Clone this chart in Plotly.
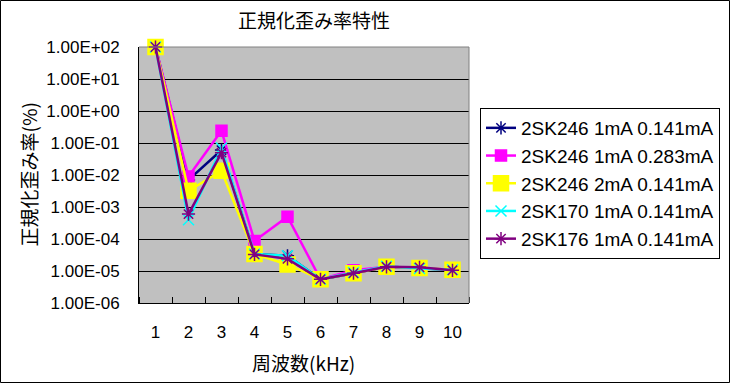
import plotly.graph_objects as go

freq_khz = [1, 2, 3, 4, 5, 6, 7, 8, 9, 10]
x_labels = ["1", "2", "3", "4", "5", "6", "7", "8", "9", "10"]

sk246_1mA_0141 = [100, 7e-3, 6e-2, 3.4e-5, 3.0e-5, 5.5e-6, 8.5e-6, 1.35e-5, 1.25e-5, 1.05e-5]
sk246_1mA_0283 = [100, 9e-3, 0.24, 8.7e-5, 5.0e-4, 5.5e-6, 1.05e-5, 1.35e-5, 1.25e-5, 1.1e-5]
sk246_2mA_0141 = [100, 3.2e-3, 1.35e-2, 3.4e-5, 1.6e-5, 5.5e-6, 8.5e-6, 1.35e-5, 1.25e-5, 1.1e-5]
sk170_1mA_0141 = [100, 4e-4, 7e-2, 3.4e-5, 3.0e-5, 5.5e-6, 9.0e-6, 1.4e-5, 1.2e-5, 1.1e-5]
sk176_1mA_0141 = [100, 6e-4, 5e-2, 3.3e-5, 2.4e-5, 5.5e-6, 8.5e-6, 1.35e-5, 1.3e-5, 1.05e-5]

series_names = [
    "2SK246 1mA 0.141mA",
    "2SK246 1mA 0.283mA",
    "2SK246 2mA 0.141mA",
    "2SK170 1mA 0.141mA",
    "2SK176 1mA 0.141mA",
]

y_tickvals = [1e-6, 1e-5, 1e-4, 1e-3, 1e-2, 1e-1, 1e0, 1e1, 1e2]
y_ticktext = ["1.00E-06", "1.00E-05", "1.00E-04", "1.00E-03", "1.00E-02",
              "1.00E-01", "1.00E+00", "1.00E+01", "1.00E+02"]

title_text = "正規化歪み率特性"
x_title = "周波数(kHz)"
y_title = "正規化歪み率(%)"

styles = [
    dict(color="#000080", symbol="asterisk-open", size=11),
    dict(color="#FF00FF", symbol="square", size=11),
    dict(color="#FFFF00", symbol="square", size=15),
    dict(color="#00FFFF", symbol="x-thin-open", size=11),
    dict(color="#800080", symbol="asterisk-open", size=11),
]
data = [sk246_1mA_0141, sk246_1mA_0283, sk246_2mA_0141, sk170_1mA_0141, sk176_1mA_0141]

fig = go.Figure()
for name, ys, st in zip(series_names, data, styles):
    fig.add_trace(go.Scatter(
        x=freq_khz, y=ys, name=name, mode="lines+markers",
        line=dict(color=st["color"], width=2.5),
        marker=dict(symbol=st["symbol"], size=st["size"], color=st["color"],
                    line=dict(color=st["color"], width=1.5)),
        cliponaxis=False,
    ))

W, H = 730, 383
L, R, T, B = 139, 261, 47, 80
pw, ph = W - L - R, H - T - B

fig.update_layout(
    width=W, height=H,
    margin=dict(l=L, r=R, t=T, b=B, autoexpand=False),
    paper_bgcolor="white",
    plot_bgcolor="#C0C0C0",
    font=dict(family="Liberation Sans, Arial, sans-serif", size=17, color="black"),
    title=dict(text=title_text, x=314 / W, y=1 - 21 / H, xref="container", yref="container",
               xanchor="center", yanchor="middle",
               font=dict(family="Noto Sans CJK JP", size=19, color="black")),
    showlegend=True,
    legend=dict(x=(480 - L) / pw, y=1 - (108 - T) / ph, xanchor="left", yanchor="top",
                bgcolor="white", bordercolor="black", borderwidth=1,
                font=dict(family="Liberation Sans, Arial, sans-serif", size=19, color="black")),
    xaxis=dict(
        range=[0.5, 10.5], tickmode="array", tickvals=freq_khz, ticktext=x_labels,
        ticks="", showgrid=False, zeroline=False,
        showline=True, linecolor="black", linewidth=1,
        ticklabelstandoff=14,
        minor=dict(ticks="inside", tickmode="linear", tick0=0.5, dtick=1,
                   ticklen=6, tickcolor="black", tickwidth=1, showgrid=False),
        tickfont=dict(size=17),
    ),
    yaxis=dict(
        type="log", range=[-6, 2], tickmode="array", tickvals=y_tickvals, ticktext=y_ticktext,
        ticks="", showgrid=True, gridcolor="black", gridwidth=1,
        showline=True, linecolor="black", linewidth=1,
        ticklabelstandoff=15,
        tickfont=dict(size=17),
    ),
    shapes=[
        dict(type="line", xref="paper", yref="paper", x0=0, x1=1, y0=1, y1=1,
             line=dict(color="#808080", width=1), layer="above"),
        dict(type="line", xref="paper", yref="paper", x0=1, x1=1, y0=0, y1=1,
             line=dict(color="#808080", width=1), layer="above"),
        dict(type="rect", xref="paper", yref="paper",
             x0=(-L + 0.5) / pw, x1=(W - L - 0.5) / pw,
             y0=(-B + 0.5) / ph, y1=1 + (T - 0.5) / ph,
             line=dict(color="black", width=1), fillcolor="rgba(0,0,0,0)", layer="above"),
    ],
    annotations=[
        dict(text=y_title, xref="paper", yref="paper", x=(27.5 - L) / pw, y=0.5,
             xanchor="center", yanchor="middle", textangle=-90, showarrow=False,
             font=dict(family="Noto Sans CJK JP", size=19, color="black")),
        dict(text=x_title, xref="paper", yref="paper", x=(303.5 - L) / pw,
             y=-(362.5 - (T + ph)) / ph, xanchor="center", yanchor="middle", showarrow=False,
             font=dict(family="Noto Sans CJK JP", size=19, color="black")),
    ],
)

fig.write_html("out.html", config={"displayModeBar": False},
               post_script="document.body.style.margin='0';document.body.style.padding='0';")
